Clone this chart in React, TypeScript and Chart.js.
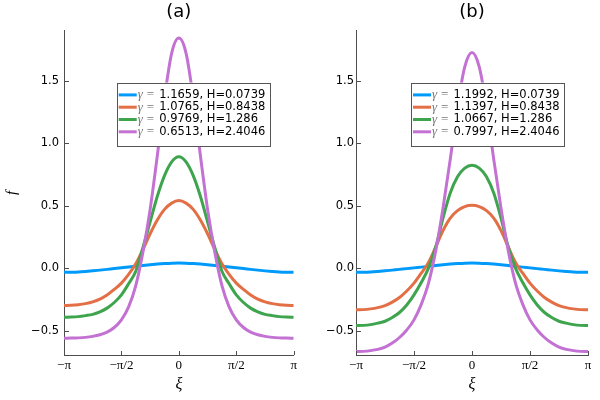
import { useEffect, useRef } from "react";
import { Chart, registerables } from "chart.js";
Chart.register(...registerables);

// xi sample positions, in units of pi
const xiFrac = [
  -1, -0.9375, -0.875, -0.8125, -0.75, -0.6875, -0.625, -0.5625, -0.5, -0.4375, -0.375, -0.3125, -0.25,
  -0.1875, -0.125, -0.0625, 0, 0.0625, 0.125, 0.1875, 0.25, 0.3125, 0.375, 0.4375, 0.5, 0.5625, 0.625,
  0.6875, 0.75, 0.8125, 0.875, 0.9375, 1,
];

// panel (a)
const blueA = [-0.034, -0.033, -0.031, -0.027, -0.022, -0.016, -0.01, -0.003, 0.003, 0.009, 0.015, 0.021,
  0.027, 0.032, 0.036, 0.039, 0.04, 0.039, 0.036, 0.032, 0.027, 0.021, 0.015, 0.009, 0.003, -0.003, -0.01,
  -0.016, -0.022, -0.027, -0.031, -0.033, -0.034];
const orangeA = [-0.3, -0.298, -0.293, -0.284, -0.27, -0.248, -0.215, -0.17, -0.12, -0.05, 0.035, 0.15,
  0.275, 0.385, 0.47, 0.52, 0.54, 0.52, 0.47, 0.385, 0.275, 0.15, 0.035, -0.05, -0.12, -0.17, -0.215,
  -0.248, -0.27, -0.284, -0.293, -0.298, -0.3];
const greenA = [-0.393, -0.392, -0.388, -0.38, -0.37, -0.35, -0.32, -0.275, -0.214, -0.125, -0.025, 0.165,
  0.37, 0.575, 0.74, 0.85, 0.89, 0.85, 0.74, 0.575, 0.37, 0.165, -0.025, -0.125, -0.214, -0.275, -0.32,
  -0.35, -0.37, -0.38, -0.388, -0.392, -0.393];
const purpleA = [-0.561, -0.56, -0.558, -0.554, -0.546, -0.533, -0.512, -0.475, -0.414, -0.31, -0.14, 0.13,
  0.47, 0.9, 1.36, 1.72, 1.84, 1.72, 1.36, 0.9, 0.47, 0.13, -0.14, -0.31, -0.414, -0.475, -0.512, -0.533,
  -0.546, -0.554, -0.558, -0.56, -0.561];

// panel (b)
const blueB = [-0.034, -0.033, -0.031, -0.027, -0.022, -0.016, -0.01, -0.004, 0.002, 0.008, 0.014, 0.021,
  0.027, 0.032, 0.036, 0.039, 0.04, 0.039, 0.036, 0.032, 0.027, 0.021, 0.014, 0.008, 0.002, -0.004, -0.01,
  -0.016, -0.022, -0.027, -0.031, -0.033, -0.034];
const orangeB = [-0.334, -0.332, -0.326, -0.316, -0.3, -0.272, -0.235, -0.183, -0.12, -0.04, 0.045, 0.17,
  0.3, 0.4, 0.46, 0.492, 0.502, 0.492, 0.46, 0.4, 0.3, 0.17, 0.045, -0.04, -0.12, -0.183, -0.235, -0.272,
  -0.3, -0.316, -0.326, -0.332, -0.334];
const greenB = [-0.46, -0.458, -0.452, -0.44, -0.425, -0.395, -0.355, -0.295, -0.214, -0.115, 0.0, 0.17,
  0.4, 0.6, 0.73, 0.8, 0.823, 0.8, 0.73, 0.6, 0.4, 0.17, 0.0, -0.115, -0.214, -0.295, -0.355, -0.395,
  -0.425, -0.44, -0.452, -0.458, -0.46];
const purpleB = [-0.668, -0.666, -0.66, -0.65, -0.632, -0.6, -0.555, -0.495, -0.414, -0.29, -0.12, 0.14,
  0.48, 0.87, 1.29, 1.61, 1.725, 1.61, 1.29, 0.87, 0.48, 0.14, -0.12, -0.29, -0.414, -0.495, -0.555, -0.6,
  -0.632, -0.65, -0.66, -0.666, -0.668];

const gammaA = ["1.1659", "1.0765", "0.9769", "0.6513"];
const gammaB = ["1.1992", "1.1397", "1.0667", "0.7997"];
const hValues = ["0.0739", "0.8438", "1.286", "2.4046"];

const xTickValues = [-Math.PI, -Math.PI / 2, 0, Math.PI / 2, Math.PI];
const xTickLabels = ["−π", "−π/2", "0", "π/2", "π"];
const yTickValues = [-0.5, 0, 0.5, 1, 1.5];
const yTickLabels = ["−0.5", "0.0", "0.5", "1.0", "1.5"];

const COLORS = ["#009AFA", "#E36F47", "#3EA44E", "#C371D2"];
const AXIS = "#4d4d4d";

const insideTicks = {
  id: "insideTicks",
  afterDraw(chart: any) {
    const { ctx, chartArea, scales } = chart;
    ctx.save();
    ctx.strokeStyle = AXIS;
    ctx.lineWidth = 1;
    ctx.beginPath();
    for (const v of xTickValues) {
      const px = Math.round(scales.x.getPixelForValue(v)) + 0.5;
      ctx.moveTo(px, chartArea.bottom);
      ctx.lineTo(px, chartArea.bottom - 4);
    }
    for (const v of yTickValues) {
      const py = Math.round(scales.y.getPixelForValue(v)) + 0.5;
      ctx.moveTo(chartArea.left, py);
      ctx.lineTo(chartArea.left + 5, py);
    }
    ctx.stroke();
    ctx.restore();
  },
};

function boxLegend(gammas: string[]) {
  return {
    id: "boxLegend",
    afterDatasetsDraw(chart: any) {
      const { ctx, chartArea } = chart;
      const w = 154, h = 64;
      const x0 = chartArea.right - 23 - w;
      const y0 = chartArea.top + 52;
      ctx.save();
      ctx.fillStyle = "#fff";
      ctx.fillRect(x0, y0, w, h);
      ctx.strokeStyle = "#555";
      ctx.lineWidth = 1;
      ctx.strokeRect(Math.round(x0) + 0.5, Math.round(y0) + 0.5, w - 1, h - 1);
      ctx.textBaseline = "middle";
      gammas.forEach((g, i) => {
        const cy = y0 + 12.3 + i * 12.3;
        ctx.strokeStyle = COLORS[i];
        ctx.lineWidth = 3;
        ctx.beginPath();
        ctx.moveTo(x0 + 2, cy);
        ctx.lineTo(x0 + 20, cy);
        ctx.stroke();
        ctx.fillStyle = "#777";
        ctx.font = "italic 13px 'Liberation Serif'";
        ctx.fillText("γ", x0 + 21, cy);
        ctx.font = "13px 'Liberation Serif'";
        ctx.fillText("=", x0 + 30, cy);
        ctx.fillStyle = "#000";
        ctx.font = "11.5px 'DejaVu Sans'";
        ctx.fillText(`${g}, H=${hValues[i]}`, x0 + 42.5, cy);
      });
      ctx.restore();
    },
  };
}

interface PanelProps {
  title: string;
  series: number[][];
  gammas: string[];
  yTitle: boolean;
  yWidth: number;
  yPad: number;
  rightPad: number;
}

function Panel({ title, series, gammas, yTitle, yWidth, yPad, rightPad }: PanelProps) {
  const ref = useRef<HTMLCanvasElement>(null);

  useEffect(() => {
    if (!ref.current) return;
    const chart = new Chart(ref.current, {
      type: "line",
      data: {
        datasets: series.map((vals, i) => ({
          data: xiFrac.map((f, j) => ({ x: f * Math.PI, y: vals[j] })),
          borderColor: COLORS[i],
          borderWidth: 3,
          pointRadius: 0,
          fill: false,
          cubicInterpolationMode: "monotone" as const,
          order: series.length - i,
        })),
      },
      options: {
        responsive: true,
        maintainAspectRatio: false,
        animation: false,
        layout: { padding: { left: 0, right: rightPad, top: 0, bottom: 0 } },
        plugins: {
          legend: { display: false },
          tooltip: { enabled: false },
          title: {
            display: true,
            text: title,
            fullSize: false,
            color: "#000",
            font: { family: "DejaVu Sans", size: 18, weight: "normal" },
            padding: { top: 2, bottom: 7 },
          },
        },
        scales: {
          x: {
            type: "linear",
            min: -Math.PI,
            max: Math.PI,
            afterBuildTicks: (s: any) => {
              s.ticks = xTickValues.map((v) => ({ value: v }));
            },
            afterFit: (s: any) => {
              s.height = 45;
            },
            ticks: {
              autoSkip: false,
              maxRotation: 0,
              padding: 3,
              color: "#000",
              font: { family: "Liberation Serif", size: 13 },
              callback: (_v: any, i: number) => xTickLabels[i],
            },
            grid: { display: false, drawTicks: false, tickLength: 0 },
            border: { display: true, color: AXIS, width: 1 },
            title: {
              display: true,
              text: "ξ",
              color: "#000",
              font: { family: "Liberation Serif", size: 16, style: "italic" },
              padding: { top: 0, bottom: 6 },
            },
          },
          y: {
            type: "linear",
            min: -0.695,
            max: 1.9,
            afterBuildTicks: (s: any) => {
              s.ticks = yTickValues.map((v) => ({ value: v }));
            },
            afterFit: (s: any) => {
              s.width = yWidth;
            },
            ticks: {
              autoSkip: false,
              padding: yPad,
              color: "#000",
              font: { family: "DejaVu Sans", size: 11.5 },
              callback: (_v: any, i: number) => yTickLabels[i],
            },
            grid: { display: false, drawTicks: false, tickLength: 0 },
            border: { display: true, color: AXIS, width: 1 },
            title: {
              display: yTitle,
              text: "f",
              color: "#000",
              font: { family: "Liberation Serif", size: 15, style: "italic" },
              padding: { top: 3, bottom: 0 },
            },
          },
        },
      } as any,
      plugins: [insideTicks, boxLegend(gammas)],
    });
    return () => chart.destroy();
  }, []);

  return (
    <div style={{ position: "relative", width: 300, height: 400 }}>
      <canvas ref={ref} />
    </div>
  );
}

export default function App() {
  return (
    <div style={{ position: "absolute", left: 0, top: 0, width: 600, height: 400, display: "flex", background: "#fff" }}>
      <Panel title="(a)" series={[blueA, orangeA, greenA, purpleA]} gammas={gammaA}
        yTitle={true} yWidth={64} yPad={5} rightPad={4} />
      <Panel title="(b)" series={[blueB, orangeB, greenB, purpleB]} gammas={gammaB}
        yTitle={false} yWidth={56} yPad={2} rightPad={12} />
    </div>
  );
}
